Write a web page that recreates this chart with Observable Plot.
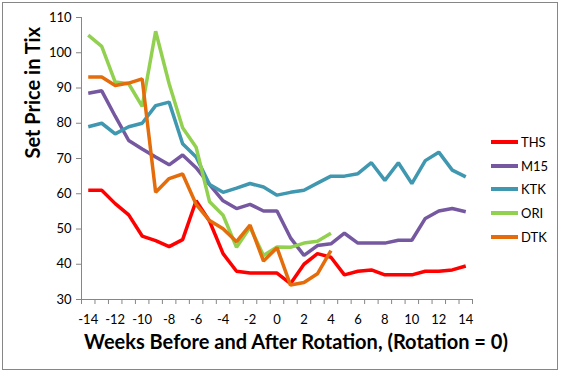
<!DOCTYPE html>
<html>
<head>
<meta charset="utf-8">
<script src="https://cdn.jsdelivr.net/npm/d3@7"></script>
<script src="https://cdn.jsdelivr.net/npm/@observablehq/plot@0.6"></script>
<style>
  html, body { margin: 0; padding: 0; background: #fff; }
  #wrap { position: relative; width: 563px; height: 376px; overflow: hidden; }
  #border { position: absolute; left: 2px; top: 2px; width: 556px; height: 368px; border: 1.5px solid #868686; box-sizing: border-box; }
  #legend { position: absolute; left: 491px; top: 130px; font: 13px Lato, "Open Sans", sans-serif; color: #000; }
  .li { display: flex; align-items: center; height: 23.7px; }
  .sw { width: 27px; height: 4px; margin-right: 3px; }
</style>
</head>
<body>
<div id="wrap"><div id="border"></div><div id="legend"></div></div>
<script>
const weeks = d3.range(-14, 15);
const seriesNames = ["THS", "M15", "KTK", "ORI", "DTK"];
const colors = ["#FF0000", "#7558A0", "#3F97B0", "#92D050", "#E46C0A"];

const THS = [61, 61, 57.2, 54, 48, 46.7, 45, 47, 58, 52.2, 43, 38, 37.5, 37.5, 37.5, 34.5, 40, 43, 42, 37, 38, 38.4, 37, 37, 37, 38, 38, 38.4, 39.5];
const M15 = [88.5, 89.2, 82, 75.1, 72.7, 70.4, 68.2, 71, 67.4, 62.6, 58, 55.8, 57, 55.1, 55.1, 47.5, 42.5, 45.3, 45.8, 48.8, 46, 46, 46, 46.8, 46.8, 53, 55.1, 55.8, 54.9];
const KTK = [79, 80, 77, 79, 80, 85, 86, 74.2, 70.4, 62.6, 60.4, 61.6, 62.9, 61.9, 59.6, 60.4, 61, 63, 65, 65, 65.7, 68.8, 63.8, 68.8, 62.9, 69.4, 71.8, 66.7, 64.8];
const ORI = [105, 101.8, 91.7, 91.2, 84.8, 106.1, 91.2, 78.7, 73.2, 57.7, 53.9, 44.8, 50.5, 42.5, 44.9, 44.8, 46, 46.5, 48.8];
const DTK = [93.1, 93.1, 90.7, 91.4, 92.6, 60.4, 64.3, 65.6, 57, 52.4, 50.1, 46.4, 51.1, 40.9, 44.7, 34.1, 34.8, 37.3, 43.9];

const yTicks = d3.range(30, 111, 10);
const xLabelTicks = d3.range(-14, 15, 2);

const allSeries = [THS, M15, KTK, ORI, DTK];
const data = [];
allSeries.forEach((vals, si) => vals.forEach((v, i) => data.push({week: weeks[i], value: v, series: seriesNames[si]})));

const font = 'Lato, "Open Sans", sans-serif';
const chart = Plot.plot({
  width: 563,
  height: 376,
  marginLeft: 81,
  marginRight: 91,
  marginTop: 17,
  marginBottom: 77,
  style: { fontFamily: font, fontSize: "13px", color: "#000", background: "transparent" },
  x: { type: "linear", domain: [-14.5, 14.5] },
  y: { domain: [30, 110] },
  color: { domain: seriesNames, range: colors },
  marks: [
    Plot.axisY({ ticks: yTicks, tickSize: 5, tickPadding: 5, label: null, stroke: "#868686", fill: "#000" }),
    Plot.axisX({ ticks: d3.range(-14.5, 15, 1), tickSize: 5, tickFormat: () => "", label: null, stroke: "#868686" }),
    Plot.axisX({ ticks: xLabelTicks, tickSize: 0, tickPadding: 15, tickFormat: d => String(d), label: null, fill: "#000" }),
    Plot.ruleY([30], { stroke: "#868686", strokeWidth: 1 }),
    Plot.ruleX([-14.5], { stroke: "#868686", strokeWidth: 1 }),
    Plot.line(data, { x: "week", y: "value", z: "series", stroke: "series", strokeWidth: 3.5, strokeLinejoin: "miter", strokeLinecap: "butt" }),
    Plot.text(["Set Price in Tix"], { frameAnchor: "left", rotate: -90, dx: -48, fontSize: 20, fontWeight: "bold", fill: "#000" }),
    Plot.text(["Weeks Before and After Rotation, (Rotation = 0)"], { frameAnchor: "bottom", lineAnchor: "middle", dx: 19, dy: 43, fontSize: 20, fontWeight: "bold", fill: "#000" })
  ]
});
document.getElementById("wrap").prepend(chart);

const legend = document.getElementById("legend");
seriesNames.forEach((n, i) => {
  const row = document.createElement("div");
  row.className = "li";
  row.innerHTML = `<span class="sw" style="background:${colors[i]}"></span><span>${n}</span>`;
  legend.appendChild(row);
});
</script>
</body>
</html>
